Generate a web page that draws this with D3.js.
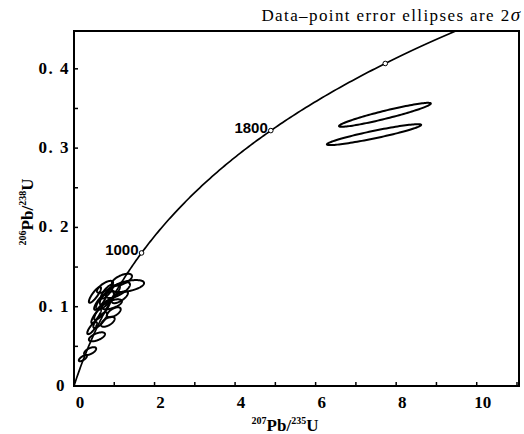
<!DOCTYPE html>
<meta charset="utf-8">
<style>
body { margin: 0; background: #fff; }
</style>
<svg width="524" height="434"></svg>
<script src="https://cdn.jsdelivr.net/npm/d3@7/dist/d3.min.js"></script>
<script>

// concordia age markers (Ma)
var markerAges = [1000, 1800, 2200];
var markerLabels = ["1000", "1800", ""];

var xTicks = [0, 1, 2, 3, 4, 5, 6, 7, 8, 9, 10, 11];
var xLabels = [0, 2, 4, 6, 8, 10];
var yTicks = [0, 0.05, 0.1, 0.15, 0.2, 0.25, 0.3, 0.35, 0.4];
var yLabels = [0, 0.1, 0.2, 0.3, 0.4];

// data-point ellipses: centre, 2-sigma half widths, error correlation
var ellX   = [7.72, 7.45, 1.34, 1.09, 0.89, 0.77, 0.94, 0.70, 0.99, 0.65, 0.57, 0.45, 0.40, 0.22, 0.52, 1.19, 0.77, 0.65, 0.84, 1.14, 0.82, 0.55];
var ellY   = [0.342, 0.317, 0.126, 0.121, 0.115, 0.108, 0.103, 0.096, 0.093, 0.083, 0.062, 0.073, 0.044, 0.035, 0.115, 0.134, 0.125, 0.106, 0.081, 0.112, 0.119, 0.088];
var ellEx  = [1.14, 1.17, 0.40, 0.30, 0.25, 0.22, 0.25, 0.20, 0.17, 0.17, 0.20, 0.12, 0.15, 0.10, 0.15, 0.25, 0.20, 0.15, 0.17, 0.20, 0.15, 0.12];
var ellEy  = [0.0151, 0.0132, 0.0076, 0.010, 0.0126, 0.0113, 0.0063, 0.0126, 0.0063, 0.010, 0.0057, 0.0076, 0.005, 0.0038, 0.010, 0.0076, 0.0076, 0.010, 0.0063, 0.0076, 0.0088, 0.0088];
var ellRho = [0.94, 0.93, 0.5, 0.7, 0.8, 0.75, 0.6, 0.85, 0.6, 0.8, 0.6, 0.8, 0.6, 0.7, 0.85, 0.6, 0.7, 0.85, 0.6, 0.7, 0.8, 0.85];

var l238 = 1.55125e-10, l235 = 9.8485e-10;

var svg = d3.select("svg"),
    margin = {top: 31, right: 5, bottom: 48, left: 74},
    width = +svg.attr("width") - margin.left - margin.right,
    height = +svg.attr("height") - margin.top - margin.bottom;

var x = d3.scaleLinear().domain([0, 11.05]).range([margin.left, margin.left + width]);
var y = d3.scaleLinear().domain([0, 0.4477]).range([margin.top + height, margin.top]);

svg.append("clipPath").attr("id", "clip")
  .append("rect")
    .attr("x", margin.left).attr("y", margin.top)
    .attr("width", width).attr("height", height);

var plot = svg.append("g").attr("clip-path", "url(#clip)");

// concordia
var ages = d3.range(0, 2600, 10);
var conc = function(t) { return [Math.exp(l235 * t * 1e6) - 1, Math.exp(l238 * t * 1e6) - 1]; };
var line = d3.line()
    .x(function(d) { return x(d[0]); })
    .y(function(d) { return y(d[1]); });

plot.append("path")
    .datum(ages.map(conc))
    .attr("d", line)
    .attr("fill", "none")
    .attr("stroke", "#000")
    .attr("stroke-width", 1.7);

// ellipses
var ellLine = d3.line()
    .x(function(d) { return x(d[0]); })
    .y(function(d) { return y(d[1]); })
    .curve(d3.curveLinearClosed);
var theta = d3.range(0, 2 * Math.PI, Math.PI / 60);

ellX.forEach(function(cx, i) {
  var r = ellRho[i], s = Math.sqrt(1 - r * r);
  var pts = theta.map(function(a) {
    return [cx + ellEx[i] * Math.cos(a),
            ellY[i] + ellEy[i] * (r * Math.cos(a) + s * Math.sin(a))];
  });
  plot.append("path")
      .attr("d", ellLine(pts))
      .attr("fill", "none")
      .attr("stroke", "#000")
      .attr("stroke-width", 2);
});

// age markers
markerAges.forEach(function(t, i) {
  var p = conc(t);
  svg.append("circle")
      .attr("cx", x(p[0])).attr("cy", y(p[1])).attr("r", 2.3)
      .attr("fill", "#fff").attr("stroke", "#000").attr("stroke-width", 1);
  svg.append("text")
      .attr("x", x(p[0]) - 3).attr("y", y(p[1]) + 2)
      .attr("text-anchor", "end")
      .attr("font-family", "Liberation Sans, Arial, sans-serif")
      .attr("font-size", 15)
      .attr("font-weight", "bold")
      .text(markerLabels[i]);
});

// ticks (inward)
svg.append("g").selectAll("line").data(xTicks).enter().append("line")
    .attr("x1", function(d) { return x(d); }).attr("x2", function(d) { return x(d); })
    .attr("y1", y(0)).attr("y2", y(0) - 4)
    .attr("stroke", "#000").attr("stroke-width", 1.5);
svg.append("g").selectAll("line").data(yTicks).enter().append("line")
    .attr("x1", x(0)).attr("x2", x(0) + 4)
    .attr("y1", function(d) { return y(d); }).attr("y2", function(d) { return y(d); })
    .attr("stroke", "#000").attr("stroke-width", 1.5);

// frame
svg.append("rect")
    .attr("x", margin.left).attr("y", margin.top)
    .attr("width", width).attr("height", height)
    .attr("fill", "none").attr("stroke", "#000").attr("stroke-width", 2);

var serif = "Liberation Serif, Times New Roman, serif";

svg.append("g").selectAll("text").data(xLabels).enter().append("text")
    .attr("x", function(d) { return x(d) + 6; })
    .attr("y", 408)
    .attr("text-anchor", "middle")
    .attr("font-family", serif).attr("font-size", 17).attr("font-weight", "bold")
    .text(function(d) { return d; });

svg.append("g").selectAll("text").data(yLabels).enter().append("text")
    .attr("x", function(d) { return d === 0 ? 66 : 70; })
    .attr("y", function(d) { return y(d) + 5; })
    .attr("text-anchor", "end")
    .attr("letter-spacing", 1.5)
    .attr("font-family", serif).attr("font-size", 17).attr("font-weight", "bold")
    .text(function(d) { return d === 0 ? "0" : d3.format(".1f")(d).replace(".", ". "); });

// axis titles
var xt = svg.append("text")
    .attr("x", 285).attr("y", 431)
    .attr("text-anchor", "middle")
    .attr("font-family", serif).attr("font-size", 17).attr("font-weight", "bold");
xt.append("tspan").attr("font-size", 10).attr("dy", -7).text("207");
xt.append("tspan").attr("dy", 7).text("Pb/");
xt.append("tspan").attr("font-size", 10).attr("dy", -7).text("235");
xt.append("tspan").attr("dy", 7).text("U");

var yt = svg.append("text")
    .attr("transform", "translate(33,212) rotate(-90)")
    .attr("text-anchor", "middle")
    .attr("font-family", serif).attr("font-size", 17).attr("font-weight", "bold");
yt.append("tspan").attr("font-size", 10).attr("dy", -7).text("206");
yt.append("tspan").attr("dy", 7).text("Pb/");
yt.append("tspan").attr("font-size", 10).attr("dy", -7).text("238");
yt.append("tspan").attr("dy", 7).text("U");

// note
var note = svg.append("text")
    .attr("x", 520).attr("y", 21)
    .attr("text-anchor", "end")
    .attr("font-family", serif).attr("font-size", 17)
    .attr("letter-spacing", 1.4);
note.append("tspan").text("Data\u2013point error ellipses are 2");
note.append("tspan").attr("font-style", "italic").attr("font-size", 19).attr("letter-spacing", 0).text("\u03c3");

</script>
